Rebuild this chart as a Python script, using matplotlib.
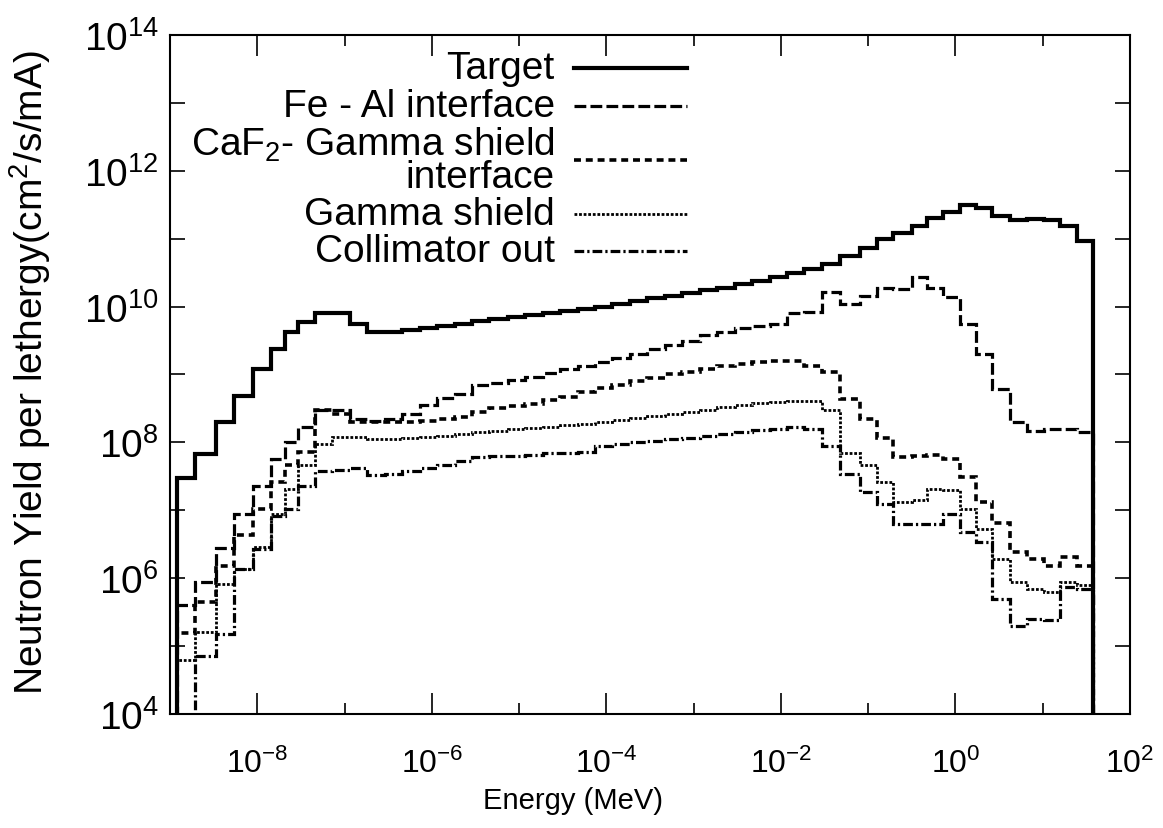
import numpy as np
import matplotlib
matplotlib.use('Agg')
import matplotlib.pyplot as plt
from matplotlib import font_manager
from matplotlib.ticker import FixedLocator, NullFormatter

plt.rcParams['font.family'] = ['Liberation Sans', 'DejaVu Sans']
plt.rcParams['mathtext.fontset'] = 'custom'
plt.rcParams['mathtext.rm'] = 'Liberation Sans'
plt.rcParams['mathtext.it'] = 'Liberation Sans'
plt.rcParams['lines.scale_dashes'] = False

# energy bin edges, log10(MeV)
edges_log = [-8.92, -8.71, -8.47, -8.27, -8.05, -7.84, -7.68, -7.53, -7.34,
             -7.14, -6.94, -6.74, -6.54, -6.34, -6.14, -5.94, -5.74, -5.54,
             -5.34, -5.13, -4.93, -4.73, -4.53, -4.33, -4.13, -3.93, -3.73,
             -3.53, -3.33, -3.13, -2.93, -2.73, -2.53, -2.33, -2.13, -1.93,
             -1.73, -1.53, -1.32, -1.09, -0.90, -0.71, -0.50, -0.33, -0.14,
             0.05, 0.24, 0.42, 0.63, 0.82, 1.01, 1.20, 1.39, 1.58]

# log10 of yield per lethargy in each bin
target_log = [7.48, 7.83, 8.30, 8.69, 9.08, 9.38, 9.62, 9.77,
              9.90, 9.90, 9.74, 9.62, 9.63, 9.65, 9.68, 9.72, 9.75, 9.79,
              9.82, 9.85, 9.88, 9.91, 9.94, 9.97, 10.00, 10.04, 10.08, 10.12,
              10.16, 10.20, 10.24, 10.28, 10.33, 10.38, 10.44, 10.50, 10.55,
              10.63, 10.75, 10.87, 11.00, 11.09, 11.19, 11.30, 11.39, 11.49,
              11.45, 11.34, 11.27, 11.29, 11.28, 11.19, 10.97]
fe_al_log = [5.60, 5.94, 6.45, 6.95, 7.36, 7.76, 8.00, 8.22,
             8.47, 8.47, 8.34, 8.32, 8.35, 8.42, 8.55, 8.65, 8.72, 8.84,
             8.88, 8.92, 8.97, 9.02, 9.08, 9.13, 9.19, 9.25, 9.30, 9.38,
             9.44, 9.50, 9.58, 9.62, 9.68, 9.72, 9.74, 9.90, 9.92,
             10.21, 10.04, 10.16, 10.28, 10.26, 10.43, 10.28, 10.14, 9.74,
             9.30, 8.79, 8.30, 8.17, 8.20, 8.20, 8.15]
caf2_log = [5.20, 5.65, 6.18, 6.63, 7.02, 7.41, 7.66, 7.86,
            8.47, 8.42, 8.30, 8.30, 8.30, 8.30, 8.32, 8.35, 8.38, 8.45,
            8.50, 8.53, 8.57, 8.62, 8.67, 8.74, 8.80, 8.85, 8.90, 8.95,
            9.00, 9.03, 9.08, 9.12, 9.15, 9.18, 9.20, 9.20, 9.13,
            9.04, 8.64, 8.34, 8.07, 7.78, 7.80, 7.81, 7.76, 7.49,
            7.12, 6.82, 6.38, 6.28, 6.18, 6.31, 6.18]
gamma_log = [4.79, 5.21, 5.91, 6.14, 6.46, 6.95, 7.31, 7.66,
             7.98, 8.08, 8.08, 8.05, 8.05, 8.06, 8.08, 8.10, 8.12, 8.15,
             8.17, 8.19, 8.21, 8.23, 8.25, 8.27, 8.30, 8.33, 8.36, 8.39,
             8.42, 8.45, 8.48, 8.52, 8.55, 8.58, 8.60, 8.61, 8.61,
             8.47, 7.85, 7.66, 7.41, 7.12, 7.15, 7.31, 7.30, 7.02,
             6.72, 6.28, 5.94, 5.84, 5.80, 5.94, 5.90]
collim_log = [3.00, 4.86, 5.18, 6.14, 6.43, 6.92, 7.02, 7.36,
              7.58, 7.60, 7.62, 7.52, 7.54, 7.58, 7.62, 7.66, 7.72, 7.78,
              7.80, 7.80, 7.82, 7.84, 7.85, 7.86, 7.95, 7.98, 8.00, 8.02,
              8.05, 8.07, 8.10, 8.13, 8.15, 8.18, 8.20, 8.22, 8.20,
              7.95, 7.53, 7.27, 7.09, 6.80, 6.80, 6.80, 6.95, 6.68,
              6.53, 5.69, 5.30, 5.40, 5.38, 5.87, 5.84]

labels = ['Target', 'Fe - Al interface', 'CaF$_2$- Gamma shield\ninterface',
          'Gamma shield', 'Collimator out']

edges = 10.0 ** np.array(edges_log)
series = [target_log, fe_al_log, caf2_log, gamma_log, collim_log]
styles = [
    dict(linestyle='-', linewidth=3.0),
    dict(linestyle=(0, (8.5, 3.0)), linewidth=2.3),
    dict(linestyle=(0, (5.0, 3.5)), linewidth=2.6),
    dict(linestyle=(0, (2.0, 1.3)), linewidth=2.0),
    dict(linestyle=(0, (7.0, 2.2, 1.6, 2.2)), linewidth=2.3),
]

# narrow face for the x label when it is installed
installed = {f.name for f in font_manager.fontManager.ttflist}
if 'Liberation Sans Narrow' in installed:
    xlab_font = dict(family='Liberation Sans Narrow', fontsize=25.5)
else:
    xlab_font = dict(family='Liberation Sans', fontsize=21)

fig = plt.figure(figsize=(11.63, 8.29), dpi=100)
ax = fig.add_axes([0.1462, 0.1375, 0.8254, 0.8191])

for vals, lab, st in zip(series, labels, styles):
    ax.stairs(10.0 ** np.array(vals), edges, baseline=1e3, color='black',
              label=lab, joinstyle='miter', capstyle='butt', **st)

ax.set_xscale('log')
ax.set_yscale('log')
ax.set_xlim(1e-9, 1e2)
ax.set_ylim(1e4, 1e14)

ax.xaxis.set_major_locator(FixedLocator([10.0 ** k for k in range(-8, 3, 2)]))
ax.xaxis.set_minor_locator(FixedLocator([10.0 ** k for k in range(-9, 2, 2)]))
ax.xaxis.set_minor_formatter(NullFormatter())
ax.yaxis.set_major_locator(FixedLocator([10.0 ** k for k in range(4, 15, 2)]))
ax.yaxis.set_minor_locator(FixedLocator([10.0 ** k for k in range(5, 14, 2)]))
ax.yaxis.set_minor_formatter(NullFormatter())

ax.tick_params(which='both', direction='in', top=True, right=True, width=1.2)
ax.tick_params(axis='x', which='major', length=15, labelsize=23, pad=24)
ax.tick_params(axis='x', which='minor', length=8)
ax.tick_params(axis='y', which='both', length=11, labelsize=28, pad=8)
for sp in ax.spines.values():
    sp.set_linewidth(1.5)

ax.set_xlabel('Energy (MeV)', **xlab_font)
ax.xaxis.set_label_coords(0.42, -0.106)
ax.set_ylabel('Neutron Yield per lethergy(cm$^2$/s/mA)', fontsize=28)
ax.yaxis.set_label_coords(-0.122, 0.505)

leg = ax.legend(loc='upper right', bbox_to_anchor=(0.5907, 0.938),
                bbox_transform=fig.transFigure, frameon=False, markerfirst=False,
                fontsize=28, handlelength=2.9, handletextpad=0.5,
                labelspacing=0.03, borderpad=0, borderaxespad=0)
for t in leg.get_texts():
    t.set_multialignment('right')
    t.set_linespacing(0.85)
# keep each line sample level with the middle of its (possibly two-line) label
for col in leg._legend_handle_box.get_children():
    for row in col.get_children():
        row.align = 'center'

fig.savefig('out.png', dpi=100, facecolor='white')
